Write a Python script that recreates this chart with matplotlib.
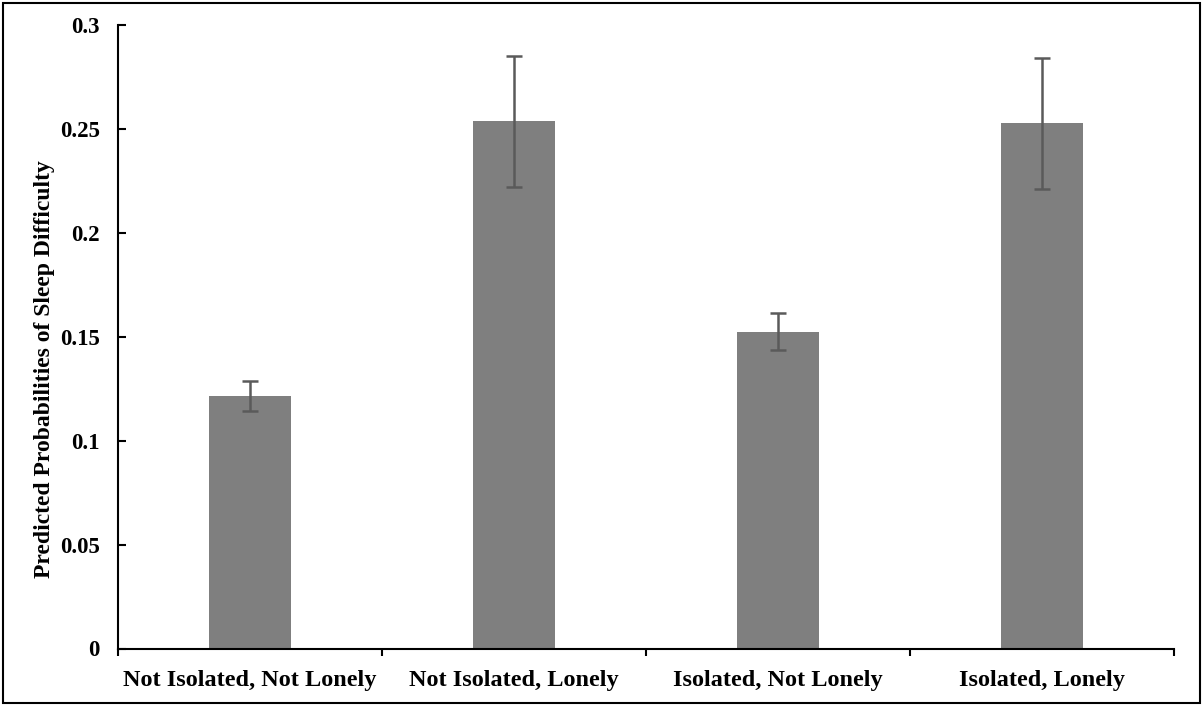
import matplotlib
matplotlib.use("Agg")
import matplotlib.pyplot as plt
import numpy as np
from matplotlib.patches import Rectangle

categories = ["Not Isolated, Not Lonely", "Not Isolated, Lonely", "Isolated, Not Lonely", "Isolated, Lonely"]
probabilities = [0.1216, 0.2538, 0.1525, 0.2529]
errors = [0.0072, 0.0315, 0.0088, 0.0315]
y_ticks = [0, 0.05, 0.1, 0.15, 0.2, 0.25, 0.3]
y_tick_labels = ["0", "0.05", "0.1", "0.15", "0.2", "0.25", "0.3"]
y_label = "Predicted Probabilities of Sleep Difficulty"

plt.rcParams['font.family'] = ['Liberation Serif', 'DejaVu Serif']

W, H = 1203, 706
fig = plt.figure(figsize=(W / 100, H / 100), dpi=100)
ax = fig.add_axes([118 / W, 1 - 648.5 / H, (1174 - 118) / W, (648.5 - 25.3) / H])

x = np.arange(len(categories))
ax.bar(x, probabilities, width=0.313, color="#7f7f7f", zorder=2)
ax.errorbar(x, probabilities, yerr=errors, fmt="none", ecolor="#5a5a5a",
            elinewidth=1.8, capsize=5.5, capthick=1.8, zorder=3)

ax.set_xlim(-0.5, len(categories) - 0.5)
ax.set_ylim(0, 0.3)

ax.set_yticks(y_ticks)
ax.set_yticklabels(y_tick_labels, fontsize=16.5, fontweight="bold")
ax.tick_params(axis="y", direction="in", length=6, width=1.5, pad=13)

ax.set_xticks(np.arange(len(categories) + 1) - 0.5)
ax.set_xticklabels([])
ax.tick_params(axis="x", which="major", direction="out", length=5, width=1.5)
ax.set_xticks(x, minor=True)
ax.set_xticklabels(categories, minor=True, fontsize=17.5, fontweight="bold")
ax.tick_params(axis="x", which="minor", length=0, pad=15.5)

for s in ["top", "right"]:
    ax.spines[s].set_visible(False)
for s in ["left", "bottom"]:
    ax.spines[s].set_linewidth(1.5)
    ax.spines[s].set_color("black")

fig.text(45 / W, 1 - 369 / H, y_label, rotation=90, ha="center", va="center",
         fontsize=17, fontweight="bold")

fig.patches.append(Rectangle((3 / W, 3 / H), (W - 6) / W, (H - 6) / H,
                             transform=fig.transFigure, fill=False,
                             edgecolor="black", linewidth=1.5))

fig.savefig("out.png", dpi=100)
